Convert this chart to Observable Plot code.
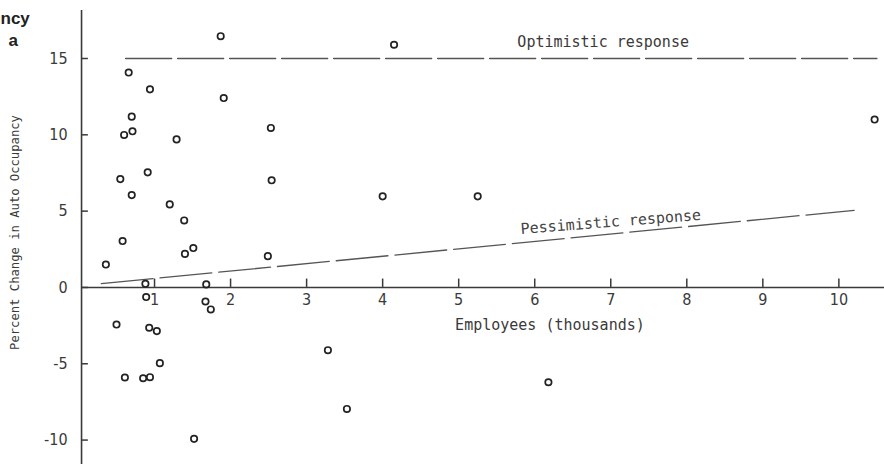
<!DOCTYPE html>
<html>
<head>
<meta charset="utf-8">
<script src="https://cdn.jsdelivr.net/npm/d3@7"></script>
<script src="https://cdn.jsdelivr.net/npm/@observablehq/plot@0.6"></script>
<style>
  html, body { margin: 0; padding: 0; background: #fff; }
  #chart svg { display: block; }
</style>
</head>
<body>
<div id="chart"></div>
<script>
// Scatter data: employees (thousands) vs percent change in auto occupancy
const employees = [0.36, 0.58, 1.40, 1.51, 2.49, 0.88, 0.89, 1.68, 1.67, 1.74,
  0.50, 0.93, 1.03, 1.07, 0.61, 0.85, 0.94, 1.52, 3.28, 3.53,
  6.18, 1.87, 0.66, 0.94, 1.91, 0.70, 0.60, 0.71, 1.29, 2.53,
  0.55, 0.91, 2.54, 0.70, 1.20, 1.39, 4.00, 4.15, 10.47, 5.25];
const change = [1.5, 3.04, 2.2, 2.58, 2.05, 0.24, -0.63, 0.2, -0.92, -1.44,
  -2.43, -2.64, -2.86, -4.96, -5.9, -5.95, -5.88, -9.92, -4.11, -7.96,
  -6.21, 16.46, 14.08, 12.98, 12.41, 11.19, 9.99, 10.23, 9.70, 10.45,
  7.10, 7.54, 7.02, 6.05, 5.44, 4.39, 5.97, 15.9, 11.0, 5.97];

// Response lines
const optimisticX = [0.62, 10.5];
const optimisticY = [15, 15];
const pessimisticX = [0.3, 10.2];
const pessimisticY = [0.25, 5.05];

// Ticks
const xTicks = [1, 2, 3, 4, 5, 6, 7, 8, 9, 10];
const yTicks = [-10, -5, 0, 5, 10, 15];

// Labels
const xLabel = "Employees (thousands)";
const yLabel = "Percent Change in Auto Occupancy";
const optimisticLabel = "Optimistic response";
const pessimisticLabel = "Pessimistic response";
const titleFragments = ["ncy", "a"];

const points = employees.map((e, i) => ({x: e, y: change[i]}));
const opt = optimisticX.map((x, i) => ({x, y: optimisticY[i]}));
const pes = pessimisticX.map((x, i) => ({x, y: pessimisticY[i]}));

const mono = "'DejaVu Sans Mono', 'Liberation Mono', monospace";
const narrow = "'DejaVu Sans Condensed', 'Liberation Sans Narrow', 'DejaVu Sans', sans-serif";
const ink = "#3a3a3a";

const pesAngle = -4.5;
const pesAt = x => pessimisticY[0] + (x - pessimisticX[0]) * (pessimisticY[1] - pessimisticY[0]) / (pessimisticX[1] - pessimisticX[0]);

const chart = Plot.plot({
  width: 884,
  height: 464,
  marginLeft: 78,
  marginRight: 0,
  marginTop: 0,
  marginBottom: 0,
  x: {domain: [0, 10.6], axis: null},
  y: {domain: [-11.6, 18.8], axis: null},
  style: {background: "#fff"},
  marks: [
    // axes lines
    Plot.ruleX([0.04], {y1: -11.6, y2: 18.15, stroke: ink, strokeWidth: 1.6}),
    Plot.ruleY([0], {x1: 0.04, x2: 10.6, stroke: ink, strokeWidth: 1.6}),
    // y ticks (inward)
    Plot.ruleY(yTicks, {x1: 0.04, x2: 0.13, stroke: ink, strokeWidth: 1.5}),
    Plot.text(yTicks, {x: 0.04, y: d => d, text: d => String(d), dx: -14, textAnchor: "end",
      fontFamily: narrow, fontSize: 16, fill: ink}),
    // x ticks (upward)
    Plot.ruleX(xTicks, {y1: 0, y2: 0.55, stroke: ink, strokeWidth: 1.5}),
    Plot.text(xTicks, {x: d => d, y: 0, dy: 12, text: d => String(d),
      fontFamily: narrow, fontSize: 16, fill: ink}),
    // axis labels
    Plot.text([xLabel], {x: 6.2, y: 0, dy: 38, fontFamily: mono, fontSize: 15, fill: ink}),
    Plot.text([yLabel], {frameAnchor: "left", dx: -63, rotate: -90, textAnchor: "middle",
      fontFamily: mono, fontSize: 12.2, fill: ink}),
    // response lines
    Plot.line(opt, {x: "x", y: "y", stroke: "#555", strokeWidth: 1.4, strokeDasharray: "46,6"}),
    Plot.line(pes, {x: "x", y: "y", stroke: "#555", strokeWidth: 1.3, strokeDasharray: "52,7"}),
    Plot.text([optimisticLabel], {x: 6.9, y: optimisticY[0], dy: -16, fontFamily: mono, fontSize: 15, fill: ink}),
    Plot.text([pessimisticLabel], {x: 7.0, y: pesAt(7.0), dy: -12,
      rotate: pesAngle, fontFamily: mono, fontSize: 15, fill: "#444"}),
    // points
    Plot.dot(points, {x: "x", y: "y", r: 3.2, stroke: "#222", strokeWidth: 1.7, fill: "none"}),
    // cropped title fragments
    Plot.text([titleFragments[0]], {frameAnchor: "top-left", dx: -78, dy: 11, fontFamily: "'Liberation Sans', Arial, sans-serif",
      fontWeight: "bold", fontSize: 17, fill: "#222", textAnchor: "start"}),
    Plot.text([titleFragments[1]], {frameAnchor: "top-left", dx: -70, dy: 33, fontFamily: "'Liberation Sans', Arial, sans-serif",
      fontWeight: "bold", fontSize: 17, fill: "#222", textAnchor: "start"})
  ]
});
document.getElementById("chart").append(chart);
</script>
</body>
</html>
